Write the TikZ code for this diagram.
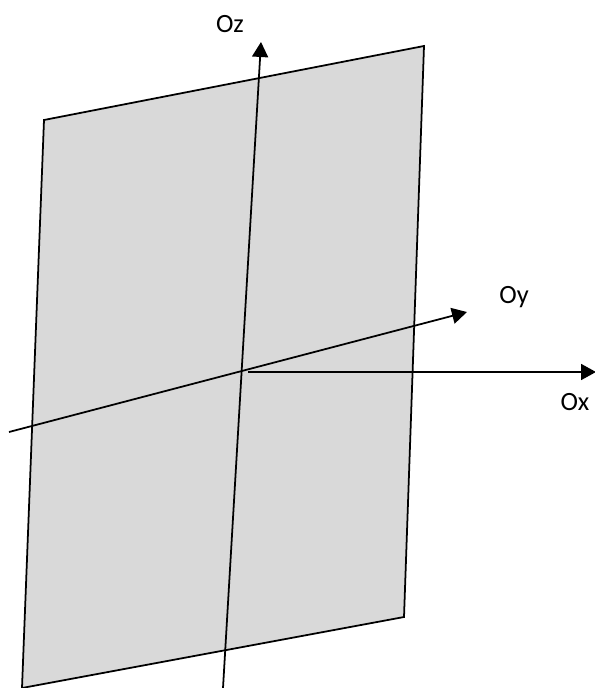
\documentclass[tikz,border=0pt]{standalone}
\usepackage{fontspec}
\setmainfont{Carlito}
\usetikzlibrary{arrows.meta}
\definecolor{planegray}{RGB}{217,217,217}
\begin{document}
\begin{tikzpicture}[
        x=0.02cm, y=-0.02cm,
        plane/.style={draw, fill=planegray, line width=1pt, line join=miter},
        axis/.style={line width=1pt, -{Triangle[length=3mm,width=3.2mm]}},
        axislabel/.style={font=\fontsize{15}{18}\selectfont, inner sep=0pt}
    ]
    \useasboundingbox (0,0) rectangle (594,688);

    % plane
    \coordinate (p1) at (44,120);
    \coordinate (p2) at (424,46);
    \coordinate (p3) at (404,617);
    \coordinate (p4) at (22,688);
    \draw[plane] (p1) -- (p2) -- (p3) -- (p4) -- cycle;

    % axes
    \coordinate (zstart) at (223,688);
    \coordinate (ztip) at (261,42);
    \coordinate (ystart) at (9,432);
    \coordinate (ytip) at (467,312);
    \coordinate (xstart) at (248,372);
    \coordinate (xtip) at (596,372);

    \draw[axis] (zstart) -- (ztip);
    \draw[axis] (ystart) -- (ytip);
    \draw[axis] (xstart) -- (xtip);

    \node[axislabel] (oz) at (230,24) {Oz};
    \node[axislabel] (oy) at (514,297) {Oy};
    \node[axislabel] (ox) at (575,402) {Ox};

\end{tikzpicture}
\end{document}
